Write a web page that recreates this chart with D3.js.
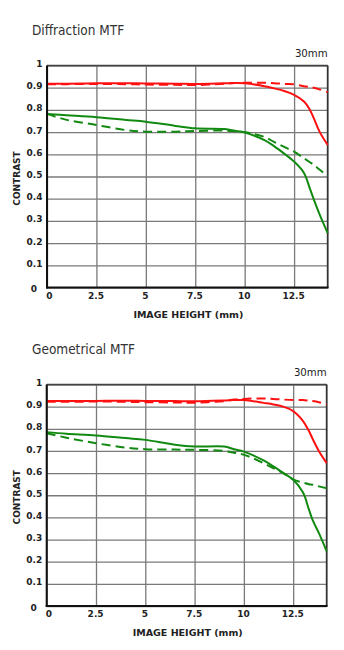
<!DOCTYPE html>
<html>
<head>
<meta charset="utf-8">
<script src="https://cdn.jsdelivr.net/npm/d3@7"></script>
<style>
  html, body { margin: 0; padding: 0; background: #fff; }
  svg { display: block; }
</style>
</head>
<body>
<svg id="chart" width="344" height="650"></svg>
<script>
// ---- data ----
const imageHeights = [0, 1, 2.5, 4, 5, 6.5, 7.5, 9, 9.5, 10, 11, 11.5, 12, 12.5, 13, 13.3, 13.5, 13.8, 14.2];
const xTicks = [0, 2.5, 5, 7.5, 10, 12.5];
const yTicks = [0, 0.1, 0.2, 0.3, 0.4, 0.5, 0.6, 0.7, 0.8, 0.9, 1];
const panelTitles = ["Diffraction MTF", "Geometrical MTF"];
const focalLabel = "30mm";
const xTitle = "IMAGE HEIGHT (mm)";
const yTitle = "CONTRAST";

// Diffraction MTF
const diffRedSolid   = [0.918, 0.918, 0.920, 0.920, 0.919, 0.918, 0.917, 0.920, 0.921, 0.920, 0.907, 0.897, 0.885, 0.868, 0.838, 0.800, 0.762, 0.700, 0.642];
const diffRedDashed  = [0.915, 0.916, 0.917, 0.916, 0.914, 0.913, 0.912, 0.918, 0.921, 0.922, 0.922, 0.920, 0.917, 0.915, 0.907, 0.903, 0.900, 0.892, 0.880];
const diffGreenSolid = [0.782, 0.776, 0.767, 0.755, 0.747, 0.728, 0.717, 0.714, 0.706, 0.698, 0.664, 0.636, 0.603, 0.567, 0.516, 0.445, 0.396, 0.327, 0.245];
const diffGreenDashed= [0.782, 0.755, 0.732, 0.709, 0.702, 0.702, 0.705, 0.707, 0.704, 0.700, 0.678, 0.655, 0.633, 0.612, 0.582, 0.564, 0.552, 0.530, 0.502];

// Geometrical MTF
const geoRedSolid    = [0.925, 0.925, 0.926, 0.927, 0.926, 0.925, 0.924, 0.928, 0.930, 0.930, 0.917, 0.910, 0.900, 0.880, 0.835, 0.790, 0.752, 0.700, 0.645];
const geoRedDashed   = [0.922, 0.922, 0.923, 0.922, 0.920, 0.919, 0.918, 0.925, 0.932, 0.935, 0.937, 0.935, 0.932, 0.930, 0.930, 0.927, 0.925, 0.920, 0.910];
const geoGreenSolid  = [0.785, 0.778, 0.770, 0.758, 0.750, 0.728, 0.720, 0.720, 0.708, 0.697, 0.657, 0.630, 0.600, 0.570, 0.512, 0.435, 0.385, 0.330, 0.247];
const geoGreenDashed = [0.780, 0.760, 0.735, 0.715, 0.708, 0.706, 0.705, 0.700, 0.692, 0.683, 0.645, 0.622, 0.600, 0.572, 0.557, 0.550, 0.547, 0.540, 0.532];

const panels = [
  { title: panelTitles[0], top: 65.5, bottom: 287.5, left: 47, right: 327.7,
    series: [
      { values: diffGreenDashed, color: "#128a12", dashed: true },
      { values: diffGreenSolid,  color: "#128a12", dashed: false },
      { values: diffRedDashed,   color: "#ff1010", dashed: true },
      { values: diffRedSolid,    color: "#ff1010", dashed: false }
    ] },
  { title: panelTitles[1], top: 384.5, bottom: 606, left: 46.7, right: 326.7,
    series: [
      { values: geoGreenDashed, color: "#128a12", dashed: true },
      { values: geoGreenSolid,  color: "#128a12", dashed: false },
      { values: geoRedDashed,   color: "#ff1010", dashed: true },
      { values: geoRedSolid,    color: "#ff1010", dashed: false }
    ] }
];

const svg = d3.select("#chart");
const labelFont = "'DejaVu Sans', Verdana, sans-serif";

panels.forEach(p => {
  const x = d3.scaleLinear().domain([0, 14.2]).range([p.left, p.right]);
  const y = d3.scaleLinear().domain([0, 1]).range([p.bottom, p.top]);
  const w = p.right - p.left, h = p.bottom - p.top;
  const g = svg.append("g");

  // title
  g.append("text")
    .attr("x", 32).attr("y", p.top - 30.5)
    .attr("font-family", "'DejaVu Sans Condensed', 'DejaVu Sans', sans-serif")
    .attr("font-size", 13.5)
    .attr("fill", "#333")
    .text(p.title);

  g.append("text")
    .attr("x", p.right).attr("y", p.top - 8.8)
    .attr("text-anchor", "end")
    .attr("font-family", labelFont)
    .attr("font-size", 10.2)
    .attr("fill", "#222")
    .text(focalLabel);

  // y axis grid + labels
  const yAxis = g.append("g")
    .attr("transform", `translate(${p.left},0)`)
    .call(d3.axisLeft(y).tickValues(yTicks).tickSize(-w).tickPadding(4.5)
      .tickFormat(d => d === 0 ? "0" : (d === 1 ? "1" : d3.format(".1f")(d))));
  yAxis.select(".domain").remove();
  yAxis.selectAll(".tick line").attr("stroke", "#7a7a7a").attr("stroke-width", 1.3);
  yAxis.selectAll(".tick text")
    .attr("font-family", labelFont).attr("font-weight", "bold")
    .attr("font-size", 9).attr("fill", "#222").attr("dy", "0.12em");
  yAxis.selectAll(".tick").filter(d => d === 0).select("text")
    .attr("x", -10).attr("dy", "0.45em");

  // x axis grid + labels
  const xAxis = g.append("g")
    .attr("transform", `translate(0,${p.bottom})`)
    .call(d3.axisBottom(x).tickValues(xTicks).tickSize(-h).tickPadding(5)
      .tickFormat(d => String(d)));
  xAxis.select(".domain").remove();
  xAxis.selectAll(".tick line").attr("stroke", "#7a7a7a").attr("stroke-width", 1.3);
  xAxis.selectAll(".tick text")
    .attr("font-family", labelFont).attr("font-weight", "bold")
    .attr("font-size", 9).attr("fill", "#222").attr("dx", "-0.1em");
  xAxis.selectAll(".tick").filter(d => d === 0).select("text").attr("dx", "0.2em");

  // frame: top/right dark gray, left/bottom black
  g.append("line").attr("x1", p.left).attr("x2", p.right).attr("y1", p.top).attr("y2", p.top)
    .attr("stroke", "#444").attr("stroke-width", 1.6);
  g.append("line").attr("x1", p.right).attr("x2", p.right).attr("y1", p.top).attr("y2", p.bottom)
    .attr("stroke", "#333").attr("stroke-width", 1.8);

  // curves
  const line = d3.line()
    .x((d, i) => x(imageHeights[i]))
    .y(d => y(d))
    .curve(d3.curveCatmullRom.alpha(0.5));
  p.series.forEach(s => {
    g.append("path")
      .attr("d", line(s.values))
      .attr("fill", "none")
      .attr("stroke", s.color)
      .attr("stroke-width", 2)
      .attr("stroke-linejoin", "round")
      .attr("stroke-dasharray", s.dashed ? "9,5" : null);
  });

  g.append("line").attr("x1", p.left).attr("x2", p.left).attr("y1", p.top).attr("y2", p.bottom + 1)
    .attr("stroke", "#111").attr("stroke-width", 2);
  g.append("line").attr("x1", p.left - 1).attr("x2", p.right + 0.9).attr("y1", p.bottom).attr("y2", p.bottom)
    .attr("stroke", "#111").attr("stroke-width", 2);

  // axis titles
  g.append("text")
    .attr("x", (p.left + p.right) / 2 + 1).attr("y", p.bottom + 30)
    .attr("text-anchor", "middle")
    .attr("font-family", labelFont).attr("font-weight", "bold")
    .attr("font-size", 9.5).attr("fill", "#222")
    .text(xTitle);

  g.append("text")
    .attr("transform", `translate(19.5,${(p.top + p.bottom) / 2 + 2}) rotate(-90)`)
    .attr("text-anchor", "middle")
    .attr("font-family", labelFont).attr("font-weight", "bold")
    .attr("font-size", 9).attr("fill", "#222")
    .text(yTitle);
});
</script>
</body>
</html>
